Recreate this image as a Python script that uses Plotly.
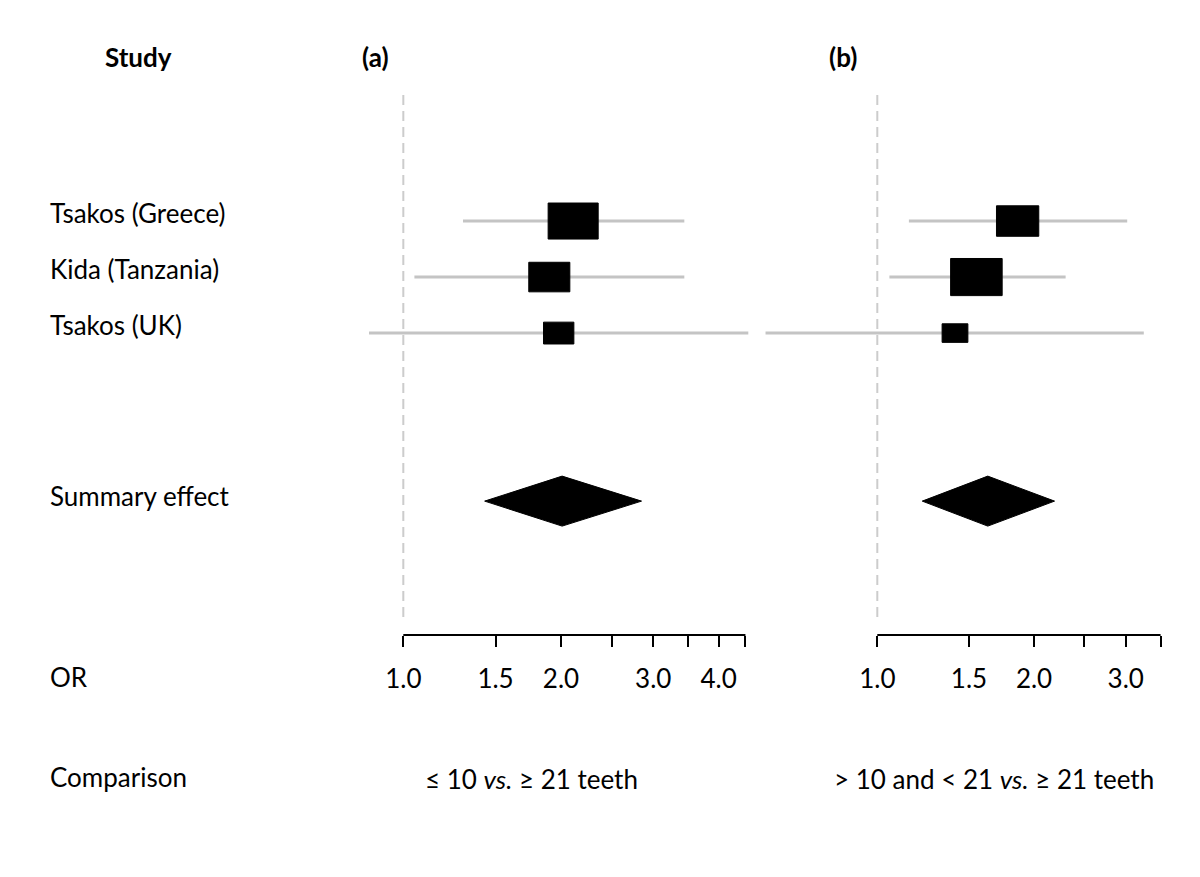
import numpy as np
import plotly.graph_objects as go

# ---------------- data ----------------
studies = ["Tsakos (Greece)", "Kida (Tanzania)", "Tsakos (UK)"]
summary_label = "Summary effect"

# panel (a): <=10 vs >=21 teeth
or_a = [2.11, 1.90, 1.98]
lo_a = [1.30, 1.05, 0.86]
hi_a = [3.44, 3.44, 4.60]
wt_a = [49, 33, 18]
sum_a_est, sum_a_lo, sum_a_hi = 2.01, 1.43, 2.85

# panel (b): >10 and <21 vs >=21 teeth
or_b = [1.86, 1.55, 1.41]
lo_b = [1.15, 1.055, 0.61]
hi_b = [3.02, 2.30, 3.25]
wt_b = [35, 52, 13]
sum_b_est, sum_b_lo, sum_b_hi = 1.63, 1.22, 2.19

tickvals_a = [1.0, 1.5, 2.0, 2.5, 3.0, 3.5, 4.0, 4.5]
ticktext_a = ["1.0", "1.5", "2.0", "", "3.0", "", "4.0", ""]
tickvals_b = [1.0, 1.5, 2.0, 2.5, 3.0, 3.5]
ticktext_b = ["1.0", "1.5", "2.0", "", "3.0", ""]

panel_titles = ["(a)", "(b)"]
comparisons = ["≤ 10 <i>vs.</i> ≥ 21 teeth", "> 10 and < 21 <i>vs.</i> ≥ 21 teeth"]

# ---------------- layout constants ----------------
W, H = 1200, 877
FONT = "Lato"
FS = 26
PLOT_TOP, PLOT_BOT = 95, 635
Y_RANGE = [8.39, -1.25]
rows = [1, 2, 3]
summary_row = 6

XA_PX = (360, 748.3)
XA_RANGE = [-0.0827, 0.6587]
XB_PX = (760, 1165)
XB_RANGE = [-0.2253, 0.5526]

px_per_yunit = (PLOT_BOT - PLOT_TOP) / abs(Y_RANGE[0] - Y_RANGE[1])


def px_per_dec(px, rng):
    return (px[1] - px[0]) / (rng[1] - rng[0])


def ydom():
    return [1 - PLOT_BOT / H, 1 - PLOT_TOP / H]


fig = go.Figure()


def add_panel(xref, est, lo, hi, wt, s_est, s_lo, s_hi, px, rng):
    xa = "x" if xref == "x" else "x2"
    ppd = px_per_dec(px, rng)
    # CI lines
    xs, ys = [], []
    for r, l, h in zip(rows, lo, hi):
        xs += [l, h, None]
        ys += [r, r, None]
    fig.add_trace(go.Scatter(x=xs, y=ys, xaxis=xa, yaxis="y", mode="lines",
                             line=dict(color="#c4c4c4", width=3),
                             hoverinfo="skip", showlegend=False))
    # boxes (area proportional to weight)
    for r, e, w in zip(rows, est, wt):
        wpx = 7.15 * np.sqrt(w)
        hpx = wpx * 0.72
        hw = (wpx / 2) / ppd
        hh = (hpx / 2) / px_per_yunit
        x0, x1 = e * 10 ** (-hw), e * 10 ** hw
        fig.add_trace(go.Scatter(x=[x0, x1, x1, x0, x0],
                                 y=[r - hh, r - hh, r + hh, r + hh, r - hh],
                                 xaxis=xa, yaxis="y", mode="lines", fill="toself",
                                 fillcolor="black", line=dict(color="black", width=1),
                                 hoverinfo="skip", showlegend=False))
    # summary diamond
    hd = 25 / px_per_yunit
    fig.add_trace(go.Scatter(x=[s_lo, s_est, s_hi, s_est, s_lo],
                             y=[summary_row, summary_row - hd, summary_row,
                                summary_row + hd, summary_row],
                             xaxis=xa, yaxis="y", mode="lines", fill="toself",
                             fillcolor="black", line=dict(color="black", width=1),
                             hoverinfo="skip", showlegend=False))


add_panel("x", or_a, lo_a, hi_a, wt_a, sum_a_est, sum_a_lo, sum_a_hi, XA_PX, XA_RANGE)
add_panel("x2", or_b, lo_b, hi_b, wt_b, sum_b_est, sum_b_lo, sum_b_hi, XB_PX, XB_RANGE)

axis_common = dict(type="log", showgrid=False, zeroline=False, showline=False,
                   ticks="outside", ticklen=11, tickwidth=2, tickcolor="black",
                   ticklabelstandoff=10,
                   tickmode="array", tickfont=dict(family=FONT, size=FS, color="black"),
                   fixedrange=True, anchor="y")

shapes = []
annotations = []
for xref, tv, tt, px in [("x", tickvals_a, ticktext_a, XA_PX), ("x2", tickvals_b, ticktext_b, XB_PX)]:
    # reference dashed line at OR = 1
    shapes.append(dict(type="line", xref=xref, yref="y", x0=1, x1=1, y0=-1.25, y1=8.12,
                       line=dict(color="#cccccc", width=2, dash="10px,6px")))
    # axis baseline from first to last tick
    shapes.append(dict(type="line", xref=xref, yref="paper", x0=tv[0], x1=tv[-1],
                       y0=1 - PLOT_BOT / H, y1=1 - PLOT_BOT / H,
                       line=dict(color="black", width=2)))

# row labels
for r, s in zip(rows, studies):
    annotations.append(dict(text=s, xref="paper", yref="y", x=48 / W, y=r, yshift=8,
                            xanchor="left", yanchor="middle", showarrow=False,
                            font=dict(family=FONT, size=FS, color="black")))
annotations.append(dict(text=summary_label, xref="paper", yref="y", x=48 / W, y=summary_row,
                        yshift=5, xanchor="left", yanchor="middle", showarrow=False,
                        font=dict(family=FONT, size=FS, color="black")))


def ann_px(text, x, y, anchor="center", bold=False):
    annotations.append(dict(text=f"<b>{text}</b>" if bold else text, xref="paper", yref="paper",
                            x=x / W, y=1 - y / H, xanchor=anchor, yanchor="middle",
                            showarrow=False, font=dict(family=FONT, size=FS, color="black")))


ann_px("Study", 138, 57, bold=True)
ann_px(panel_titles[0], 375, 57, bold=True)
ann_px(panel_titles[1], 843, 57, bold=True)
ann_px("OR", 48, 677, anchor="left")
ann_px("Comparison", 48, 777, anchor="left")
ann_px(comparisons[0], 531, 779)
ann_px(comparisons[1], 994, 779)

fig.update_layout(
    width=W, height=H,
    margin=dict(l=0, r=0, t=0, b=0),
    paper_bgcolor="white", plot_bgcolor="white",
    showlegend=False,
    xaxis=dict(domain=[XA_PX[0] / W, XA_PX[1] / W], range=XA_RANGE,
               tickvals=tickvals_a, ticktext=ticktext_a, **axis_common),
    xaxis2=dict(domain=[XB_PX[0] / W, XB_PX[1] / W], range=XB_RANGE,
                tickvals=tickvals_b, ticktext=ticktext_b, **axis_common),
    yaxis=dict(domain=ydom(), range=Y_RANGE, visible=False, fixedrange=True),
    shapes=shapes,
    annotations=annotations,
)

fig.write_html("out.html", config={"displayModeBar": False},
               post_script="document.body.style.margin='0px';")
